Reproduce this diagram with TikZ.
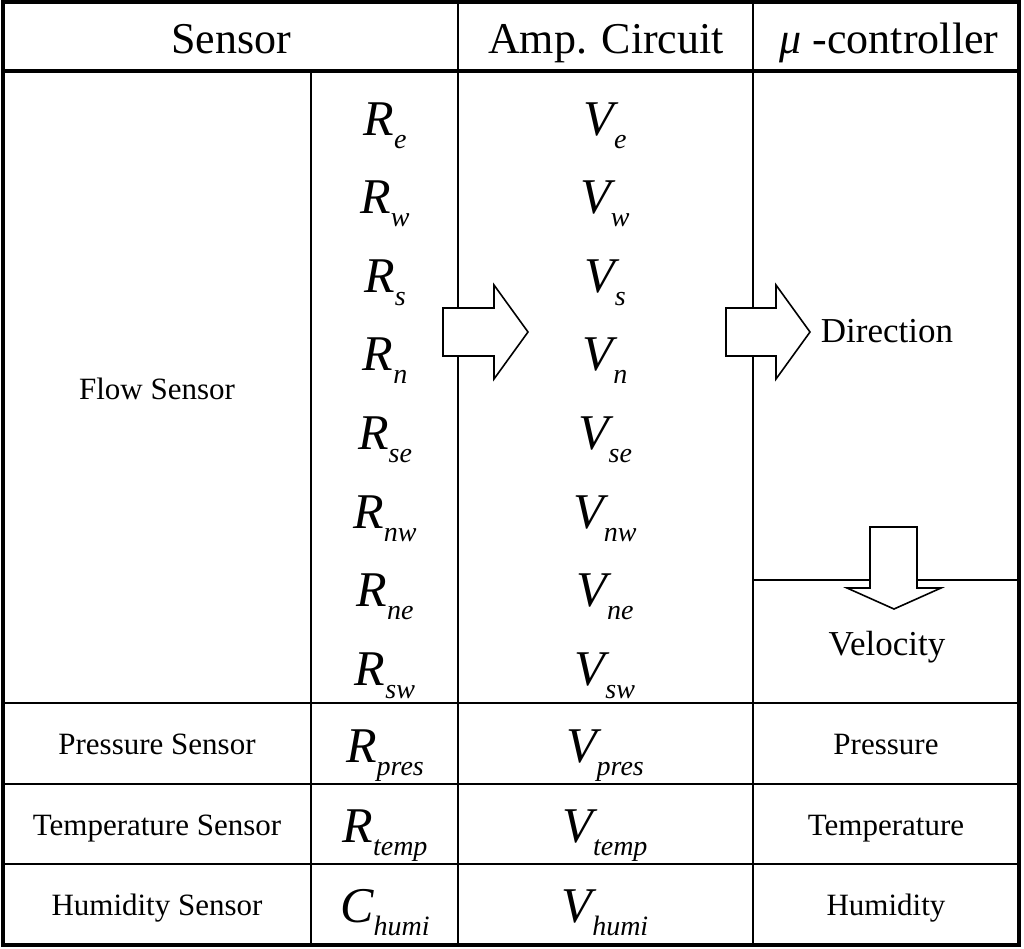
\documentclass[tikz,border=0pt]{standalone}
\usepackage{fontspec}
\setmainfont{Liberation Serif}
\newcommand\varsub[2]{{\fontsize{50}{50}\selectfont\itshape #1\raisebox{-13pt}{\fontsize{28}{28}\selectfont #2}}}

\begin{document}
\begin{tikzpicture}[x=1pt,y=-1pt,
		headtxt/.style={anchor=base,inner sep=0pt,font=\fontsize{44}{44}\selectfont},
		celltxt/.style={anchor=base,inner sep=0pt,font=\fontsize{31}{31}\selectfont},
		outtxt/.style={anchor=base,inner sep=0pt,font=\fontsize{35}{35}\selectfont},
		vartxt/.style={anchor=base,inner sep=0pt},
		thinrule/.style={line width=2pt},
		rowrule/.style={line width=2.6pt},
		blockarrow/.style={draw,fill=white,line width=1.6pt,line join=miter}]
	\useasboundingbox (0,0) rectangle (1024,948);
	% table rules
	\draw[thinrule] (311,71) -- (311,945);
	\draw[thinrule] (458,2) -- (458,945);
	\draw[thinrule] (753,2) -- (753,945);
	\draw[thinrule] (753,580) -- (1019,580);
	\draw[line width=3.2pt] (3,71) -- (1019,71);
	\foreach \y in {703,784,864}
		\draw[rowrule] (3,\y) -- (1019,\y);
	\draw[line width=4.5pt] (3,2) rectangle (1019,945);
	% header
	\node[headtxt] (sensor) at (231,53) {Sensor};
	\node[headtxt] (amp) at (606,53) {Amp. Circuit};
	\node[headtxt] (ctrl) at (889,53) {{\itshape μ} -controller};
	% flow sensor rows
	\node[celltxt] (flow) at (157,399) {Flow Sensor};
	\foreach \s [count=\i from 0] in {e,w,s,n,se,nw,ne,sw} {
		\node[vartxt] (R\s) at (385,{135+78.6*\i}) {\varsub{R}{\s}};
		\node[vartxt] (V\s) at (605,{135+78.6*\i}) {\varsub{V}{\s}};
	}
	\node[outtxt] (dir) at (887,342) {Direction};
	\node[outtxt] (vel) at (887,655) {Velocity};
	% other sensors
	\node[celltxt] (pres) at (157,754) {Pressure Sensor};
	\node[celltxt] (temp) at (157,835) {Temperature Sensor};
	\node[celltxt] (humi) at (157,915) {Humidity Sensor};
	\node[vartxt] (Rpres) at (385,762) {\varsub{R}{pres}};
	\node[vartxt] (Rtemp) at (385,842) {\varsub{R}{temp}};
	\node[vartxt] (Chumi) at (385,922) {\varsub{C}{humi}};
	\node[vartxt] (Vpres) at (605,762) {\varsub{V}{pres}};
	\node[vartxt] (Vtemp) at (605,842) {\varsub{V}{temp}};
	\node[vartxt] (Vhumi) at (605,922) {\varsub{V}{humi}};
	\node[celltxt] (outpres) at (886,754) {Pressure};
	\node[celltxt] (outtemp) at (886,835) {Temperature};
	\node[celltxt] (outhumi) at (886,915) {Humidity};
	% block arrows
	\draw[blockarrow] (443,308) -- (494,308) -- (494,285) -- (528,332)
		-- (494,379) -- (494,356) -- (443,356) -- cycle;
	\draw[blockarrow] (726,308) -- (776,308) -- (776,285) -- (810,332)
		-- (776,379) -- (776,356) -- (726,356) -- cycle;
	\draw[blockarrow] (870,527) -- (917,527) -- (917,588) -- (941,588)
		-- (894,609) -- (847,588) -- (870,588) -- cycle;
\end{tikzpicture}
\end{document}
